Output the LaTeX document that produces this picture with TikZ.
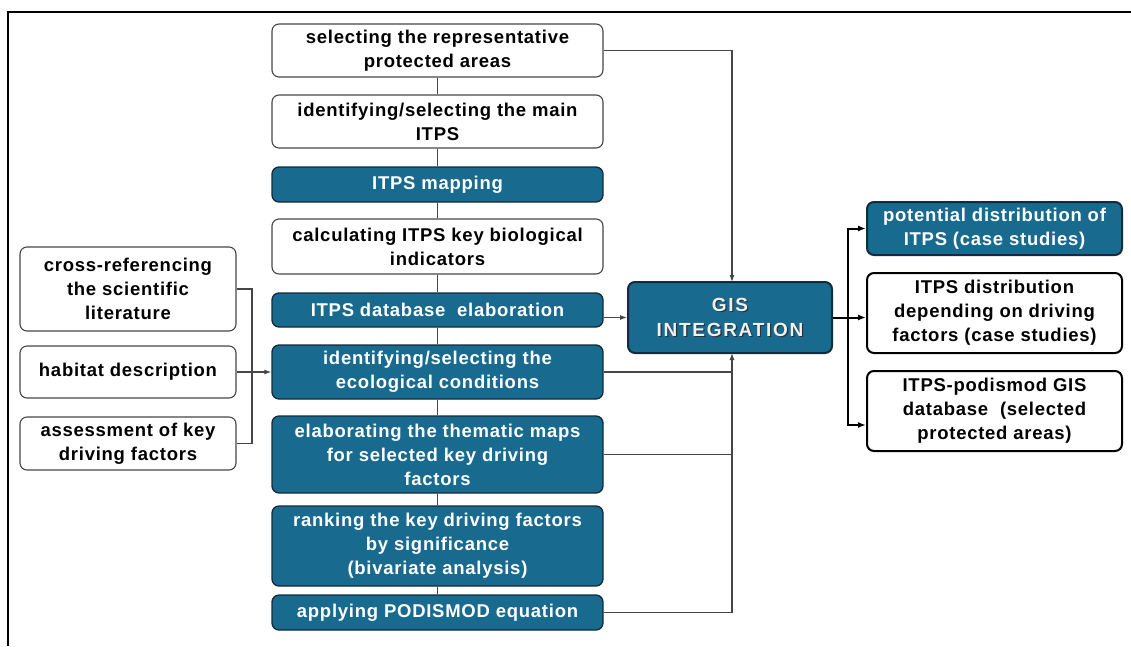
\documentclass[tikz,border=0pt]{standalone}
\usepackage{fontspec}
\setmainfont{Liberation Sans}
\newfontfamily\boxfont{Liberation Sans}[LetterSpace=4]
\newfontfamily\gisfont{Liberation Sans}[LetterSpace=9]
\usetikzlibrary{arrows.meta}
\definecolor{boxblue}{RGB}{24,106,142}
\definecolor{boxedge}{RGB}{18,44,60}
\definecolor{linegray}{RGB}{70,70,70}
\definecolor{textshade}{RGB}{40,50,58}
\tikzset{
  base/.style={rectangle, rounded corners=7pt, align=center, inner sep=0pt,
    font=\boxfont\bfseries\fontsize{18.5}{24}\selectfont},
  whitebox/.style={base, draw=linegray, line width=1.1pt, fill=white, text=black},
  bluebox/.style={base, draw=boxedge, line width=1.3pt, fill=boxblue, text=white},
  outbox/.style={base, draw=black, line width=2pt, fill=white, text=black},
  outblue/.style={base, draw=boxedge, line width=2pt, fill=boxblue, text=white},
  gistext/.style={align=center, inner sep=0pt,
    font=\gisfont\bfseries\fontsize{19}{25}\selectfont},
  link/.style={draw=linegray, line width=1.1pt},
  arr/.style={link, -{Latex[length=7pt,width=5pt]}},
  outlink/.style={draw=black, line width=2pt},
  outarr/.style={outlink, -{Latex[length=8pt,width=6pt]}},
}
\begin{document}
\begin{tikzpicture}[x=1pt,y=-1pt]
\useasboundingbox (0,0) rectangle (1131,646);
% frame
\draw[line width=2.2pt] (8,646) -- (8,12) -- (1131,12);

% main column
\node[whitebox, minimum width=331pt, minimum height=53pt] (b1) at (437.5,50.5) {selecting the representative\\protected areas};
\node[whitebox, minimum width=331pt, minimum height=53pt] (b2) at (437.5,121.5) {identifying/selecting the main\\ITPS};
\node[bluebox, minimum width=331pt, minimum height=35pt] (b3) at (437.5,184.5) {ITPS mapping};
\node[whitebox, minimum width=331pt, minimum height=55pt] (b4) at (437.5,246.5) {calculating ITPS key biological\\indicators};
\node[bluebox, minimum width=331pt, minimum height=34pt] (b5) at (437.5,310) {ITPS database\ \ elaboration};
\node[bluebox, minimum width=331pt, minimum height=54pt] (b6) at (437.5,372) {identifying/selecting the\\ecological conditions};
\node[bluebox, minimum width=331pt, minimum height=77pt] (b7) at (437.5,454.5) {elaborating the thematic maps\\for selected key driving\\factors};
\node[bluebox, minimum width=331pt, minimum height=80pt] (b8) at (437.5,546) {ranking the key driving factors\\by significance\\(bivariate analysis)};
\node[bluebox, minimum width=331pt, minimum height=35pt] (b9) at (437.5,612.5) {applying PODISMOD equation};

% left inputs
\node[whitebox, minimum width=216pt, minimum height=84pt] (la) at (128,289) {cross-referencing\\the scientific\\literature};
\node[whitebox, minimum width=216pt, minimum height=52pt] (lb) at (128,372) {habitat description};
\node[whitebox, minimum width=216pt, minimum height=53pt] (lc) at (128,443.5) {assessment of key\\driving factors};

% integration, with shaded lettering
\node[bluebox, draw=boxedge, line width=2pt, minimum width=204pt, minimum height=71pt] (gis) at (730,317.5) {};
\node[gistext, text=textshade] (gisshade) at ([xshift=1.2pt,yshift=-1.2pt]gis.center) {GIS\\INTEGRATION};
\node[gistext, text=white!94!black] (gislabel) at (gis.center) {GIS\\INTEGRATION};

% outputs
\node[outblue, minimum width=255pt, minimum height=53pt] (r1) at (994.5,228.5) {potential distribution of\\ITPS (case studies)};
\node[outbox, minimum width=255pt, minimum height=80pt] (r2) at (994.5,313) {ITPS distribution\\depending on driving\\factors (case studies)};
\node[outbox, minimum width=255pt, minimum height=80pt] (r3) at (994.5,411) {ITPS-podismod GIS\\database\ \ (selected\\protected areas)};

% column links
\foreach \a/\b in {b1/b2,b2/b3,b3/b4,b4/b5,b5/b6,b6/b7,b7/b8,b8/b9}
  \draw[link] (\a.south) -- (\b.north);

% left bracket into the ecological conditions step
\coordinate (brk) at (252,289);
\draw[link] (la.east) -- (brk) |- (lc.east);
\draw[arr] (lb.east) -- (b6.west);

% links into GIS integration
\coordinate (gtop) at (732,282);
\coordinate (gbot) at (732,353);
\draw[arr] (b1.east) -| (gtop);
\draw[arr] (b5.east |- gis.west) -- (gis.west);
\draw[link] (b6.east) -- (b6.east -| gbot);
\draw[link] (b7.east) -- (b7.east -| gbot);
\draw[arr] (b9.east) -| (gbot);

% outputs of GIS integration
\coordinate (split) at (848,317.5);
\coordinate (r3in) at (866,425);
\draw[outlink] (gis.east) -- (split);
\draw[outarr] (split) |- (r1.west);
\draw[outarr] (split) -- (split -| r2.west);
\draw[outarr] (split) |- (r3in);
\end{tikzpicture}
\end{document}
